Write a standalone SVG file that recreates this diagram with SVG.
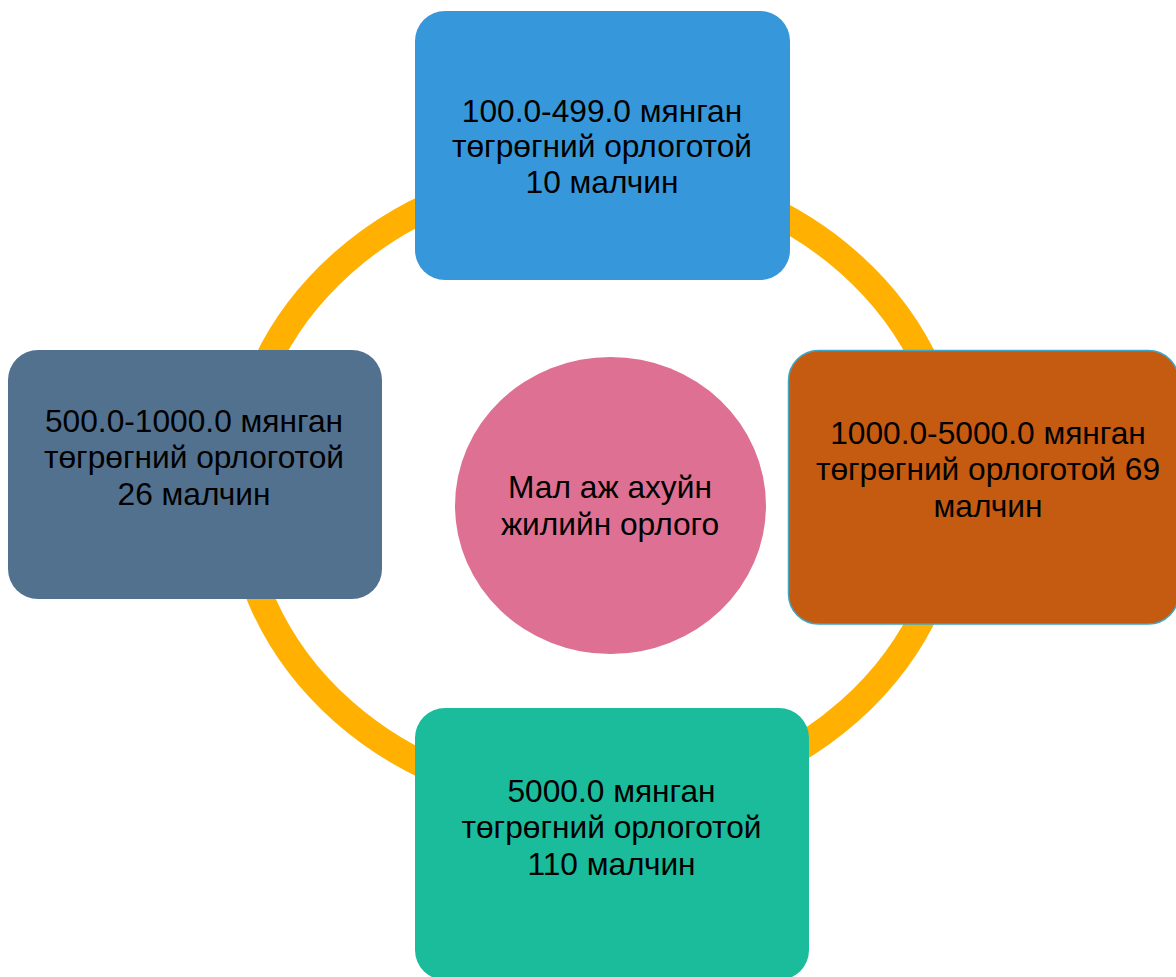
<svg xmlns="http://www.w3.org/2000/svg" width="1176" height="977" viewBox="0 0 1176 977">
<style>
text{font-family:"Liberation Sans",Arial,sans-serif;font-size:31.7px;fill:#000;text-anchor:middle}
</style>
<rect width="1176" height="977" fill="#fff"/>
<g id="connectors">
<ellipse cx="596" cy="487" rx="358" ry="317" fill="none" stroke="#FFB000" stroke-width="27"/>
</g>
<g id="center">
<ellipse cx="610.5" cy="505.5" rx="155.5" ry="148.5" fill="#DE7093"/>
<text x="610" y="498">Мал аж ахуйн</text>
<text x="610" y="535">жилийн орлого</text>
</g>
<g id="top">
<rect x="415" y="11" width="375" height="269" rx="30" fill="#3698DB"/>
<text x="602" y="122">100.0-499.0 мянган</text>
<text x="602" y="157">төгрөгний орлоготой</text>
<text x="602" y="193">10 малчин</text>
</g>
<g id="left">
<rect x="8" y="350" width="374" height="249" rx="30" fill="#52718F"/>
<text x="194" y="432">500.0-1000.0 мянган</text>
<text x="194" y="468">төгрөгний орлоготой</text>
<text x="194" y="505">26 малчин</text>
</g>
<g id="right">
<rect x="788.5" y="350.5" width="390" height="273.5" rx="30" fill="#C55A11" stroke="#3FA7C5" stroke-width="1.5"/>
<text x="988" y="444">1000.0-5000.0 мянган</text>
<text x="988" y="480">төгрөгний орлоготой 69</text>
<text x="988" y="517">малчин</text>
</g>
<g id="bottom">
<rect x="415" y="708" width="394" height="272" rx="30" fill="#1ABC9C"/>
<text x="611.5" y="802">5000.0 мянган</text>
<text x="611.5" y="838">төгрөгний орлоготой</text>
<text x="611.5" y="875">110 малчин</text>
</g>
</svg>
